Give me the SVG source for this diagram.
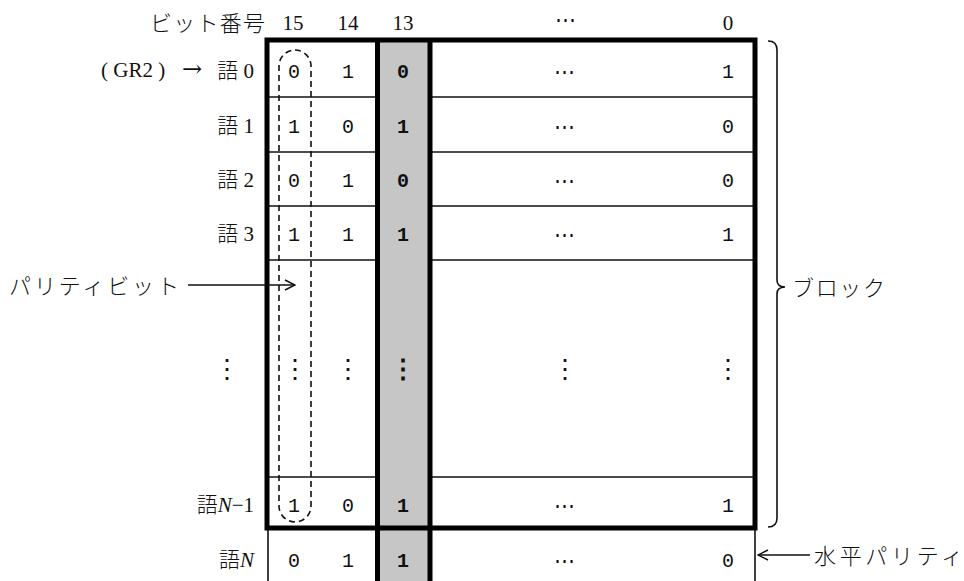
<svg xmlns="http://www.w3.org/2000/svg" width="964" height="581" viewBox="0 0 964 581">
<style>
.hd{font-family:"Liberation Serif","Noto Sans CJK JP",serif;font-size:21px;fill:#111}
.jp{font-family:"Noto Sans CJK JP",sans-serif;font-size:22px;fill:#111;font-weight:300}
.lb{font-family:"Liberation Serif","Noto Sans CJK JP",serif;font-size:21px;fill:#111}
.kj{font-family:"Noto Sans CJK JP",sans-serif;font-size:21px;font-weight:300}
.c{font-family:"Liberation Mono",monospace;font-size:20px;fill:#111;text-anchor:middle}
.cb{font-family:"Liberation Mono",monospace;font-size:20px;fill:#111;text-anchor:middle;font-weight:bold}
.el{font-family:"Liberation Serif","DejaVu Serif",serif;font-size:21px;fill:#111;text-anchor:middle}
.vd{font-family:"Liberation Serif","DejaVu Serif",serif;font-size:26px;fill:#111;text-anchor:middle}
.thin{stroke:#111;stroke-width:1.6;fill:none}
.thick{stroke:#000;stroke-width:5;fill:none}
.dash{stroke:#111;stroke-width:1.6;fill:none;stroke-dasharray:6 4}
</style>
<defs>
<marker id="ah" viewBox="0 0 12 12" refX="11" refY="6" markerWidth="12" markerHeight="12" markerUnits="userSpaceOnUse" orient="auto">
<path d="M1,1 L11,6 L1,11" fill="none" stroke="#111" stroke-width="1.5"/>
</marker>
</defs>
<rect width="964" height="581" fill="#fff"/>
<g id="grid">
<line class="thin" x1="267" y1="97" x2="755" y2="97"/>
<line class="thin" x1="267" y1="152" x2="755" y2="152"/>
<line class="thin" x1="267" y1="206" x2="755" y2="206"/>
<line class="thin" x1="267" y1="260" x2="755" y2="260"/>
<line class="thin" x1="267" y1="477" x2="755" y2="477"/>
<line class="thin" x1="268" y1="528" x2="268" y2="581"/>
<line class="thin" x1="755" y1="528" x2="755" y2="581"/>
<rect x="377" y="40" width="53" height="541" fill="#c6c6c6"/>
<line class="thick" x1="377.5" y1="40" x2="377.5" y2="581"/>
<line class="thick" x1="430" y1="40" x2="430" y2="581"/>
<rect class="thick" x="267" y="40" width="488" height="488"/>
<rect class="dash" x="279" y="50" width="32" height="472" rx="16" ry="16"/>
</g>
<g id="header">
<text class="jp" x="150" y="31" textLength="115" lengthAdjust="spacing">ビット番号</text>
<text class="hd" x="293" y="30" text-anchor="middle">15</text>
<text class="hd" x="348" y="30" text-anchor="middle">14</text>
<text class="hd" x="403" y="30" text-anchor="middle">13</text>
<text class="el" x="565" y="27">⋯</text>
<text class="hd" x="728" y="30" text-anchor="middle">0</text>
</g>
<g id="labels">
<text class="lb" x="101" y="77" font-size="22">( GR2 )</text>
<text x="192" y="77" font-family="DejaVu Serif,serif" font-size="24" fill="#111" text-anchor="middle">→</text>
<text class="lb" x="254" y="78" text-anchor="end"><tspan class="kj">語</tspan> 0</text>
<text class="lb" x="254" y="133" text-anchor="end"><tspan class="kj">語</tspan> 1</text>
<text class="lb" x="254" y="187" text-anchor="end"><tspan class="kj">語</tspan> 2</text>
<text class="lb" x="254" y="241" text-anchor="end"><tspan class="kj">語</tspan> 3</text>
<text class="vd" x="227" y="378">⋮</text>
<text class="lb" x="254" y="512" text-anchor="end"><tspan class="kj">語</tspan><tspan font-style="italic">N</tspan>−1</text>
<text class="lb" x="254" y="567" text-anchor="end"><tspan class="kj">語</tspan><tspan font-style="italic">N</tspan></text>
</g>
<g id="cells">
<text class="c" x="294" y="78">0</text><text class="c" x="348" y="78">1</text><text class="cb" x="403" y="78">0</text><text class="el" x="564" y="79">⋯</text><text class="c" x="728" y="78">1</text>
<text class="c" x="294" y="133">1</text><text class="c" x="348" y="133">0</text><text class="cb" x="403" y="133">1</text><text class="el" x="564" y="134">⋯</text><text class="c" x="728" y="133">0</text>
<text class="c" x="294" y="187">0</text><text class="c" x="348" y="187">1</text><text class="cb" x="403" y="187">0</text><text class="el" x="564" y="188">⋯</text><text class="c" x="728" y="187">0</text>
<text class="c" x="294" y="241">1</text><text class="c" x="348" y="241">1</text><text class="cb" x="403" y="241">1</text><text class="el" x="564" y="242">⋯</text><text class="c" x="728" y="241">1</text>
<text class="vd" x="295" y="378">⋮</text><text class="vd" x="348" y="378">⋮</text><text class="vd" x="403" y="378" font-weight="bold">⋮</text><text class="vd" x="565" y="378">⋮</text><text class="vd" x="728" y="378">⋮</text>
<text class="c" x="294" y="512">1</text><text class="c" x="348" y="512">0</text><text class="cb" x="403" y="512">1</text><text class="el" x="564" y="513">⋯</text><text class="c" x="728" y="512">1</text>
<text class="c" x="294" y="567">0</text><text class="c" x="348" y="567">1</text><text class="cb" x="403" y="567">1</text><text class="el" x="564" y="568">⋯</text><text class="c" x="728" y="567">0</text>
</g>
<g id="parity-label">
<text class="jp" x="9" y="294" font-size="23" textLength="170" lengthAdjust="spacing">パリティビット</text>
</g>
<g id="block-label">
<text class="jp" x="792" y="296" font-size="23" textLength="93" lengthAdjust="spacing">ブロック</text>
</g>
<g id="hparity-label">
<text class="jp" x="814" y="564" font-size="23" textLength="149" lengthAdjust="spacing">水平パリティ</text>
</g>
<g id="connectors">
<line class="thin" x1="188" y1="285" x2="295" y2="285" marker-end="url(#ah)"/>
<line class="thin" x1="810" y1="555" x2="758" y2="555" marker-end="url(#ah)"/>
<path class="thin" d="M768,41 Q777,41 777,50 L777,280 Q777,287 785,287 Q777,287 777,294 L777,518 Q777,527 768,527"/>
</g>
</svg>
